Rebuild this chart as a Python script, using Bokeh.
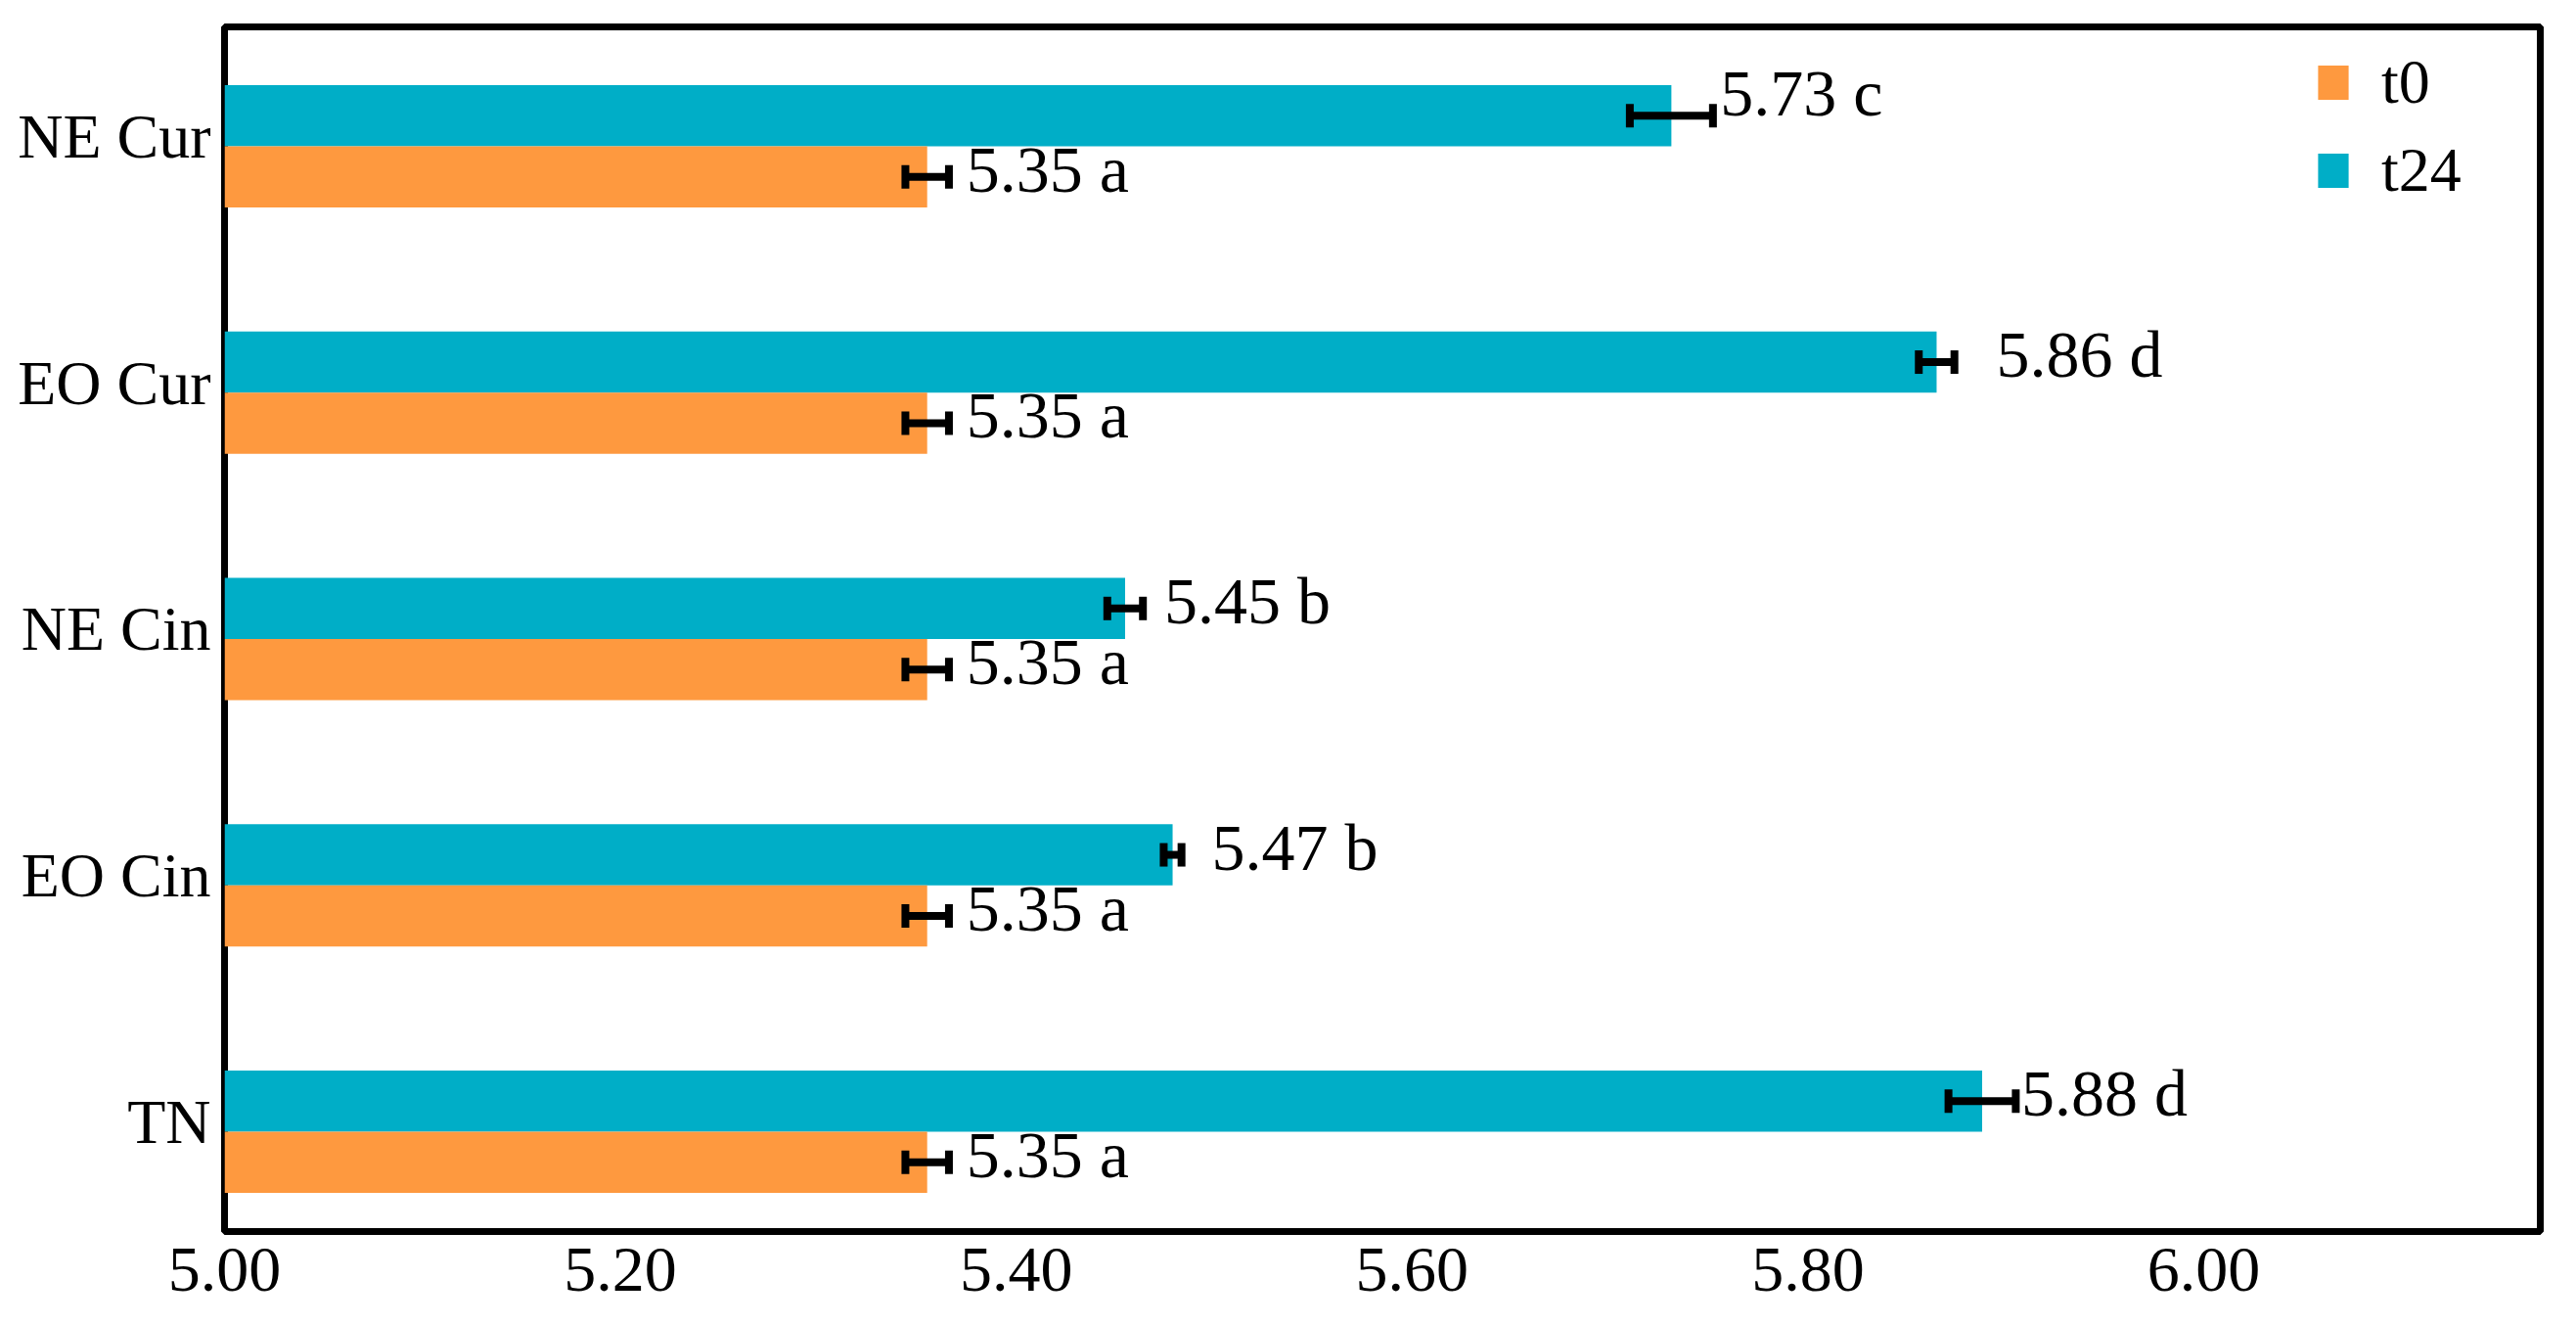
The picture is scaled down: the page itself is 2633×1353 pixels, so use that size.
from bokeh.plotting import figure
from bokeh.models import (ColumnDataSource, FixedTicker, Whisker, TeeHead, Legend,
                          LegendItem, PrintfTickFormatter, Range1d)
from bokeh.core.properties import value
from bokeh.embed import file_html
from bokeh.resources import INLINE

# ---- data (bottom to top) ----
categories = ["TN", "EO Cin", "NE Cin", "EO Cur", "NE Cur"]
t0_values = [5.355, 5.355, 5.355, 5.355, 5.355]
t0_errors = [0.011, 0.011, 0.011, 0.011, 0.011]
t0_labels = ["5.35 a", "5.35 a", "5.35 a", "5.35 a", "5.35 a"]
t24_values = [5.888, 5.479, 5.455, 5.865, 5.731]
t24_errors = [0.017, 0.0045, 0.009, 0.009, 0.021]
t24_labels = ["5.88 d", "5.47 b", "5.45 b", "5.86 d", "5.73 c"]
series_names = ["t0", "t24"]
x_ticks = [5.0, 5.2, 5.4, 5.6, 5.8, 6.0]

# ---- style ----
ORANGE = "#FE993F"
TEAL = "#00AEC7"
FONT = "Liberation Serif"
BAR_H = 0.248
BASE = 5.0
LABEL_DX = 40
t24_label_dx = [0, 0, 0, 21, 10]
t24_label_dy = [0, 0, 0, 0, -15]

idx = list(range(len(categories)))
y24 = [i + BAR_H / 2 for i in idx]
y0 = [i - BAR_H / 2 for i in idx]

src24 = ColumnDataSource(dict(
    y=y24, v=t24_values,
    lo=[v - e for v, e in zip(t24_values, t24_errors)],
    hi=[v + e for v, e in zip(t24_values, t24_errors)],
    lab=t24_labels, dx=[LABEL_DX + d for d in t24_label_dx],
    dy=[-8 + d for d in t24_label_dy]))
src0 = ColumnDataSource(dict(
    y=y0, v=t0_values,
    lo=[v - e for v, e in zip(t0_values, t0_errors)],
    hi=[v + e for v, e in zip(t0_values, t0_errors)],
    lab=t0_labels, dx=[LABEL_DX] * len(idx), dy=[-8] * len(idx)))

p = figure(width=2617, height=1337,
           x_range=Range1d(5.0, 6.170), y_range=Range1d(-0.405, 4.4846),
           output_backend="svg", toolbar_location=None,
           min_border_left=229, min_border_right=21,
           min_border_top=27, min_border_bottom=79)

p.background_fill_color = "white"
p.border_fill_color = "white"
p.grid.visible = False
p.outline_line_color = "black"
p.outline_line_width = 7

r24 = p.hbar(y="y", left=BASE, right="v", height=BAR_H, fill_color=TEAL,
             line_color=None, source=src24)
r0 = p.hbar(y="y", left=BASE, right="v", height=BAR_H, fill_color=ORANGE,
            line_color=None, source=src0)

for src in (src24, src0):
    w = Whisker(source=src, base="y", lower="lo", upper="hi", dimension="width",
                line_color="black", line_width=8, level="overlay",
                upper_head=TeeHead(size=24, line_width=8, line_color="black"),
                lower_head=TeeHead(size=24, line_width=8, line_color="black"))
    p.add_layout(w)
    p.text(x="v", y="y", text="lab", source=src, x_offset="dx", y_offset="dy",
           text_font=value(FONT), text_font_size="68px", text_color="black",
           text_align="left", text_baseline="middle")

# axes
p.xaxis.ticker = FixedTicker(ticks=x_ticks)
p.xaxis.formatter = PrintfTickFormatter(format="%.2f")
ytick_pos = [i + 0.04 for i in idx]
p.yaxis.ticker = FixedTicker(ticks=ytick_pos)
p.yaxis.major_label_overrides = {t: c for t, c in zip(ytick_pos, categories)}
for ax in (p.xaxis, p.yaxis):
    ax.axis_line_color = None
    ax.major_tick_line_color = None
    ax.minor_tick_line_color = None
    ax.major_tick_out = 0
    ax.major_tick_in = 0
    ax.major_label_text_font = FONT
    ax.major_label_text_color = "black"
p.xaxis.major_label_text_font_size = "66px"
p.yaxis.major_label_text_font_size = "64px"
p.xaxis.major_label_standoff = 17
p.yaxis.major_label_standoff = 14

legend = Legend(items=[LegendItem(label=series_names[0], renderers=[r0]),
                       LegendItem(label=series_names[1], renderers=[r24])],
                location=(2136, 1047), orientation="vertical",
                padding=0, margin=0, spacing=16,
                glyph_width=39, glyph_height=44, label_height=44,
                label_standoff=30,
                label_text_font=FONT, label_text_font_size="64px",
                label_text_color="black",
                border_line_color=None, background_fill_alpha=0)
p.add_layout(legend)

open("out.html", "w").write(file_html(p, INLINE))
